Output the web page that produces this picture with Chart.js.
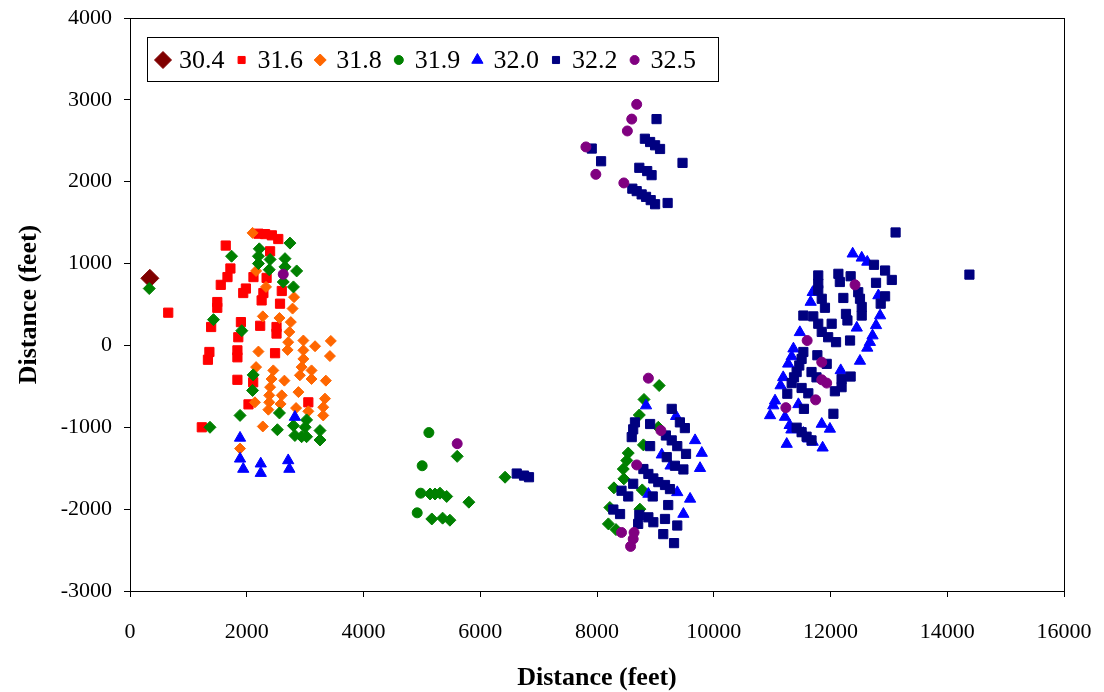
<!DOCTYPE html>
<html>
<head>
<meta charset="utf-8">
<script src="https://cdn.jsdelivr.net/npm/chart.js@4/dist/chart.umd.min.js"></script>
<style>
  html, body { margin: 0; padding: 0; background: #fff; }
  #wrap { width: 1104px; height: 692px; }
</style>
</head>
<body>
<div id="wrap"><canvas id="scatterChart" width="1104" height="692"></canvas></div>
<script>
const seriesNames = ['30.4', '31.6', '31.8', '31.9', '32.0', '32.2', '32.5'];
const xTicks = [0, 2000, 4000, 6000, 8000, 10000, 12000, 14000, 16000];
const yTicks = [-3000, -2000, -1000, 0, 1000, 2000, 3000, 4000];

const s30_4 = [[340, 820]];

const s31_6 = [
  [655, 400], [1230, -1000], [1335, -175], [1360, -80], [1390, 225], [1495, 460], [1495, 530],
  [1555, 740], [1640, 1220], [1670, 835], [1720, 940], [1840, -420], [1840, -145], [1840, -60],
  [1855, 100], [1900, 285], [1940, 640], [1985, 695], [2030, -720], [2110, -450], [2115, 835],
  [2200, 1365], [2230, 240], [2255, 550], [2285, 640], [2315, 1360], [2340, 825], [2400, 1150],
  [2430, 1345], [2485, -95], [2510, 145], [2510, 225], [2540, 1300], [2570, 510], [2600, 665],
  [3055, -695]
];

const s31_8 = [
  [2100, 1375], [2160, 910], [2330, 715], [2810, 590], [2785, 450], [2275, 355], [2560, 335],
  [2755, 285], [2730, 165], [2710, 40], [2700, -55], [2970, 60], [3440, 55], [2970, -60],
  [2970, -165], [2940, -265], [2910, -365], [3170, -10], [3425, -130], [2200, -75], [2160, -265],
  [2455, -305], [2425, -410], [2400, -510], [2385, -610], [2385, -695], [2370, -785], [2645, -430],
  [2600, -610], [2580, -715], [2885, -570], [3110, -305], [3110, -410], [3355, -430], [3340, -650],
  [3310, -755], [3310, -855], [2140, -695], [2845, -765], [3055, -805], [2275, -990], [1885, -1260]
];

// 31.9 is drawn partly with circles and partly with diamonds
const s31_9Circles = [[5120, -1065], [5005, -1470], [4980, -1805], [4920, -2045]];
const s31_9Diamonds = [
  [1740, 1090], [330, 695], [1430, 315], [1915, 180], [2740, 1250], [2215, 1180], [2200, 1090],
  [2200, 1000], [2400, 1050], [2385, 925], [2655, 1060], [2655, 960], [2855, 910], [2625, 775],
  [2800, 715], [1885, -855], [1370, -1000], [2110, -360], [2100, -550], [2560, -825], [2525, -1030],
  [2800, -980], [2825, -1100], [2940, -1115], [3025, -1115], [3255, -1040], [3255, -1155],
  [3025, -910], [3000, -1000],
  [5605, -1355], [5140, -1815], [5225, -1815], [5310, -1805], [5425, -1845], [5805, -1915],
  [5170, -2120], [5355, -2110], [5480, -2135], [6425, -1610],
  [9065, -490], [8805, -660], [8725, -850], [9050, -1000], [8795, -1215], [8535, -1315],
  [8510, -1405], [8450, -1510], [8460, -1630], [8290, -1740], [8775, -1765], [8220, -1980],
  [8735, -2000], [8195, -2180], [8325, -2250]
];

const s32_0 = [
  [1885, -1130], [1885, -1385], [1940, -1510], [2825, -875], [2240, -1445], [2240, -1560],
  [2710, -1405], [2730, -1510],
  [8840, -735], [9355, -865], [9680, -1160], [9795, -1315], [9110, -1335], [9260, -1470],
  [9765, -1500], [8880, -1815], [9375, -1795], [9595, -1875], [9480, -2060],
  [12380, 1120], [12535, 1070], [12630, 1020], [11695, 650], [11660, 530], [12820, 610],
  [12850, 365], [12780, 245], [12450, 215], [11475, 160], [12720, 120], [12675, 40], [12630, -30],
  [11365, -40], [11335, -135], [11275, -225], [12505, -190], [11190, -390], [11145, -490],
  [12175, -305], [11050, -675], [11020, -735], [10965, -855], [11450, -720], [11220, -875],
  [11300, -975], [11330, -1030], [11535, -1070], [11620, -1140], [11695, -1180], [11850, -960],
  [11990, -1020], [11250, -1205], [11865, -1250]
];

const s32_2 = [
  [9020, 2765], [7910, 2405], [8070, 2250], [8820, 2525], [8910, 2485], [8995, 2445], [9080, 2400],
  [9465, 2230], [8725, 2170], [8860, 2130], [8935, 2080], [8605, 1915], [8680, 1885], [8765, 1845],
  [8840, 1815], [8920, 1775], [8995, 1725], [9210, 1740],
  [6625, -1565], [6750, -1590], [6835, -1610],
  [9280, -775], [8650, -940], [8620, -1025], [8595, -1120], [8910, -960], [9420, -940], [9505, -1010],
  [9180, -1100], [9280, -1160], [9375, -1230], [8910, -1230], [9525, -1325], [9195, -1365],
  [9335, -1470], [9480, -1515], [8795, -1510], [8880, -1570], [8965, -1625], [9050, -1670],
  [9165, -1705], [9250, -1755], [8620, -1690], [8420, -1775], [8535, -1845], [8955, -1845],
  [9220, -1950], [8280, -2005], [8395, -2060], [8725, -2070], [8880, -2100], [8965, -2160],
  [8705, -2180], [9165, -2120], [9375, -2200], [9135, -2305], [9320, -2415],
  [13115, 1380], [14380, 865], [13050, 800], [12745, 985], [12935, 915], [12780, 765], [11790, 855],
  [11790, 755], [11790, 675], [12135, 875], [12160, 775], [12345, 845], [11850, 570], [11905, 460],
  [12220, 580], [12475, 650], [12505, 570], [12535, 470], [12535, 365], [12935, 600], [12860, 510],
  [12265, 385], [12290, 305], [11535, 365], [11705, 355], [11790, 265], [11850, 165], [11960, 100],
  [12020, 265], [12335, 60], [12095, 40], [11535, -80], [11505, -165], [11465, -245], [11420, -325],
  [11375, -390], [11335, -460], [11775, -120], [11935, -225], [11675, -325], [11760, -390],
  [11505, -520], [11620, -585], [12190, -410], [12190, -510], [12075, -560], [12345, -380],
  [11260, -590], [11545, -775], [12050, -835], [11420, -1005], [11505, -1060], [11590, -1115],
  [11675, -1160]
];

const s32_5 = [
  [8680, 2945], [8595, 2765], [8520, 2620], [7810, 2425], [7980, 2090], [8460, 1985], [2625, 870],
  [5605, -1200], [8880, -400], [9095, -1040], [8680, -1460], [8420, -2285], [8635, -2285],
  [8620, -2365], [8575, -2455], [12420, 740], [11600, 60], [11850, -205], [11850, -420],
  [11935, -460], [11745, -665], [11235, -760]
];

const colors = ['#800000', '#ff0000', '#ff6600', '#008000', '#0000ff', '#000080', '#800080'];

const toXY = arr => arr.map(p => ({ x: p[0], y: p[1] }));

const s31_9 = s31_9Circles.concat(s31_9Diamonds);
const s31_9Styles = s31_9Circles.map(() => 'circle').concat(s31_9Diamonds.map(() => 'rectRot'));
const s31_9Radii = s31_9Circles.map(() => 5).concat(s31_9Diamonds.map(() => 6));

const allSeries = [s30_4, s31_6, s31_8, s31_9, s32_0, s32_2, s32_5];
const styles = ['rectRot', 'rect', 'rectRot', s31_9Styles, 'triangle', 'rect', 'circle'];
const radii = [9, 6.5, 5.5, s31_9Radii, 6.5, 6.5, 5];

// legend markers
const legendStyles = ['rectRot', 'rect', 'rectRot', 'circle', 'triangle', 'rect', 'circle'];
const legendRadii = [8.5, 5, 6, 4.5, 6.5, 5, 4.5];

const datasets = allSeries.map((s, i) => ({
  label: seriesNames[i],
  data: toXY(s),
  pointStyle: styles[i],
  pointRadius: radii[i],
  backgroundColor: colors[i],
  borderColor: colors[i],
  borderWidth: 1,
  showLine: false,
  order: 6 - i
}));

const plotBorder = {
  id: 'plotBorder',
  afterDraw(chart) {
    const { ctx, chartArea: a } = chart;
    ctx.save();
    ctx.strokeStyle = '#000';
    ctx.lineWidth = 1;
    ctx.strokeRect(Math.round(a.left) + 0.5, Math.round(a.top) + 0.5,
      Math.round(a.right - a.left), Math.round(a.bottom - a.top));
    ctx.restore();
  }
};

const legendBox = {
  id: 'legendBox',
  afterDraw(chart) {
    const ctx = chart.ctx;
    const left = 147, top = 37;
    ctx.save();
    ctx.fillStyle = '#fff';
    ctx.fillRect(left, top, 571, 44);
    ctx.strokeStyle = '#000';
    ctx.lineWidth = 1;
    ctx.strokeRect(left + 0.5, top + 0.5, 571, 44);
    ctx.font = '26px "Liberation Serif"';
    ctx.textBaseline = 'middle';
    seriesNames.forEach((name, i) => {
      const x = left + 16 + i * 78.6;
      const y = top + 23;
      ctx.fillStyle = colors[i];
      ctx.strokeStyle = colors[i];
      Chart.helpers.drawPoint(ctx, { pointStyle: legendStyles[i], radius: legendRadii[i], rotation: 0, borderWidth: 1 }, x, y);
      ctx.fillStyle = '#000';
      ctx.fillText(name, x + 16, y + 1);
    });
    ctx.restore();
  }
};

const tickFont = { family: '"Liberation Serif", "Times New Roman", serif', size: 22 };
const titleFont = { family: '"Liberation Serif", "Times New Roman", serif', size: 26, weight: 'bold' };

new Chart(document.getElementById('scatterChart'), {
  type: 'scatter',
  data: { datasets },
  options: {
    responsive: false,
    animation: false,
    layout: { padding: { top: 18, right: 40, left: 0, bottom: 0 } },
    plugins: {
      legend: { display: false },
      tooltip: { enabled: false }
    },
    scales: {
      x: {
        type: 'linear',
        min: 0,
        max: 16000,
        afterBuildTicks: s => { s.ticks = xTicks.map(v => ({ value: v })); },
        afterFit: s => { s.height = 101; s.paddingLeft = 0; s.paddingRight = 0; },
        ticks: { color: '#000', font: tickFont, padding: 22, maxRotation: 0, callback: v => String(v) },
        grid: { drawOnChartArea: false, drawTicks: true, tickLength: 6, color: '#000' },
        border: { display: false },
        title: { display: true, text: 'Distance (feet)', color: '#000', font: titleFont, padding: { top: 0, bottom: -2 } }
      },
      y: {
        type: 'linear',
        min: -3000,
        max: 4000,
        afterBuildTicks: s => { s.ticks = yTicks.map(v => ({ value: v })); },
        afterFit: s => { s.width = 130; s.paddingTop = 0; s.paddingBottom = 0; },
        ticks: { color: '#000', font: tickFont, padding: 12, callback: v => String(v) },
        grid: { drawOnChartArea: false, drawTicks: true, tickLength: 6, color: '#000' },
        border: { display: false },
        title: { display: true, text: 'Distance (feet)', color: '#000', font: titleFont, padding: { top: 14, bottom: 0 } }
      }
    }
  },
  plugins: [plotBorder, legendBox]
});
</script>
</body>
</html>
